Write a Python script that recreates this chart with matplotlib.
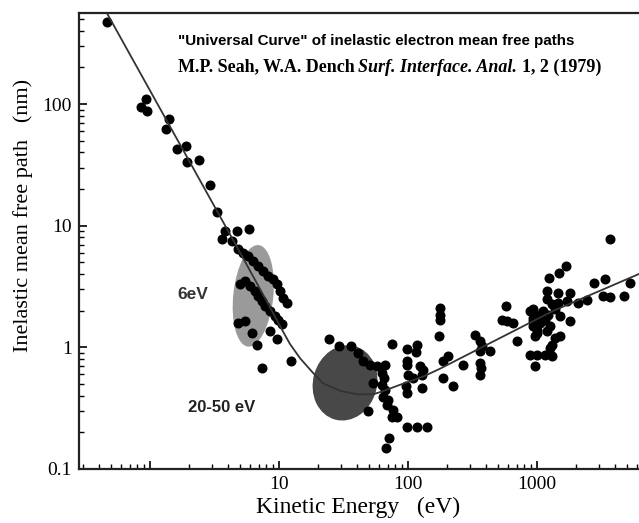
import matplotlib
matplotlib.use('Agg')
import matplotlib.pyplot as plt
from matplotlib.patches import Ellipse
from matplotlib.transforms import ScaledTranslation
from matplotlib.ticker import LogLocator, NullFormatter

# measured inelastic mean free paths: kinetic energy (eV) and path (nm)
energy = [0.461, 0.927, 0.847, 0.953, 1.41, 1.32, 1.61, 1.90, 1.92, 2.40, 2.92, 3.33,
          3.81, 4.70, 5.89, 3.60, 4.30,
          # 6 eV region, two dense rows
          4.83, 5.28, 5.78, 6.32, 6.92, 7.56, 8.26, 9.03, 9.59, 10.2, 10.8, 11.5,
          4.99, 5.45, 5.96, 6.51, 6.92, 7.35, 7.79, 8.51, 9.31, 9.88, 10.5,
          4.83, 5.45, 6.14, 6.71, 8.51, 9.59, 7.35, 12.5,
          # 20 - 150 eV
          24.5, 29.3, 35.9, 41.2, 45.0, 50.7, 57.8, 66.3, 62.6, 65.2, 53.8, 62.6,
          66.3, 64.4, 70.4, 68.4, 76.9, 74.8, 81.7, 49.2, 97.7, 117, 140, 71.3, 67.2,
          74.8, 97.7, 117, 115, 97.7, 99.0, 100.5, 124, 128, 110, 96.4, 97.7, 128,
          # 150 - 700 eV
          177, 177, 177, 175, 205, 188, 268, 188, 224, 330, 361, 372, 361, 432,
          361, 368, 361, 575, 533, 588, 655, 696, 131,
          # 1 - 5 keV
          883, 936, 936, 994, 883, 994, 965, 1150, 1300, 1260, 1300, 1380, 1510,
          965, 1190, 994, 1260, 936, 1050, 1150, 1510, 1800, 936, 994, 1120, 1220,
          1380, 1190, 1300, 1460, 1700, 1190, 1460, 1800, 2430, 2090, 3270, 3680,
          4730, 2770, 3370, 5260, 3680, 1680, 1490, 1240]
mfp = [470, 111, 94, 87.5, 74.8, 61.8, 43.1, 45.2, 33.3, 34.4, 21.8, 12.9,
       9.1, 9.1, 9.4, 7.76, 7.52,
       6.41, 6.01, 5.65, 5.14, 4.67, 4.25, 3.86, 3.62, 3.30, 2.90, 2.55, 2.32,
       3.30, 3.51, 3.19, 2.90, 2.64, 2.40, 2.18, 1.99, 1.80, 1.69, 1.56,
       1.59, 1.64, 1.31, 1.05, 1.36, 1.16, 0.675, 0.766,
       1.18, 1.02, 1.02, 0.897, 0.766, 0.719, 0.697, 0.719, 0.614, 0.557, 0.507, 0.492,
       0.447, 0.394, 0.370, 0.336, 0.305, 0.269, 0.269, 0.300, 0.222, 0.222, 0.222, 0.180, 0.149,
       1.06, 0.975, 1.04, 0.914, 0.766, 0.719, 0.594, 0.697, 0.594, 0.557, 0.477, 0.419, 0.461,
       2.11, 1.86, 1.69, 1.25, 0.843, 0.766, 0.719, 0.557, 0.477, 1.26, 1.12, 1.02, 0.927, 0.94,
       0.741, 0.675, 0.594, 2.18, 1.69, 1.64, 1.59, 1.12, 0.653,
       1.99, 1.75, 1.49, 1.31, 0.871, 0.871, 0.697, 0.871, 0.843, 0.987, 1.05, 1.19, 1.23,
       1.23, 1.36, 1.40, 1.49, 1.64, 1.59, 1.69, 1.80, 1.64, 2.05, 1.86, 1.99, 1.86,
       2.05, 2.48, 2.25, 2.32, 2.40, 2.90, 2.81, 2.81, 2.43, 2.32, 2.64, 2.59,
       2.64, 3.40, 3.62, 3.40, 7.76, 4.67, 4.11, 3.74]

# the universal curve
curve_energy = [0.409, 2.44, 4.81, 7.79, 10.5, 12.2, 14.6, 18.4, 21.9, 29.7, 40.3,
                53.6, 62.8, 86.7, 131, 177, 361, 1330, 6180]
curve_mfp = [710, 23.6, 6.46, 2.54, 1.41, 1.06, 0.811, 0.615, 0.507, 0.439, 0.411,
             0.411, 0.433, 0.492, 0.575, 0.667, 0.982, 1.99, 4.01]

# shaded regions: centre energy, centre path
region_6ev = (6.32, 2.65)
region_2050 = (32.5, 0.51)

serif = 'Liberation Serif'
sans = 'Liberation Sans'

fig = plt.figure(figsize=(6.39, 5.23), dpi=100)
ax = fig.add_axes([0.1236, 0.1033, 0.8764, 0.8718])
ax.set_xscale('log')
ax.set_yscale('log')
ax.set_xlim(0.2816, 6176)
ax.set_ylim(0.1, 560)

# ellipses sized in inches, centred on a data point
for (cx, cy), w, h, ang, col in [(region_6ev, 0.40, 1.02, -6, '#9a9a9a'),
                                  (region_2050, 0.64, 0.76, -15, '#484848')]:
    tr = fig.dpi_scale_trans + ScaledTranslation(cx, cy, ax.transData)
    ax.add_patch(Ellipse((0, 0), w, h, angle=ang, transform=tr,
                         facecolor=col, edgecolor='none', zorder=1))

ax.plot(energy, mfp, 'o', color='black', ms=6.2, mec='black', zorder=2)
ax.plot(curve_energy, curve_mfp, '-', color='#333333', lw=1.3, zorder=3)

ax.text(2.14, 2.70, '6eV', family=sans, weight='bold', fontsize=12.5,
        color='#333333', ha='center', va='center')
ax.text(3.60, 0.319, '20-50 eV', family=sans, weight='bold', fontsize=12,
        color='#222222', ha='center', va='center')

# reference heading
ax.text(0.176, 0.9386, '"Universal Curve" of inelastic electron mean free paths',
        transform=ax.transAxes, family=sans, weight='bold', fontsize=10.9,
        va='center', ha='left')
t1 = ax.text(0.176, 0.8816, 'M.P. Seah, W.A. Dench', transform=ax.transAxes,
             family=serif, weight='bold', fontsize=13, va='center', ha='left')
t2 = ax.annotate('Surf. Interface. Anal.', xy=(1, 0), xycoords=t1,
                 xytext=(3, 0), textcoords='offset points', va='bottom',
                 family=serif, weight='bold', style='italic', fontsize=13)
ax.annotate('1, 2 (1979)', xy=(1, 0), xycoords=t2,
            xytext=(3, 0), textcoords='offset points', va='bottom',
            family=serif, weight='bold', fontsize=13)

# axes and ticks
ax.set_xticks([1, 10, 100, 1000], ['', '10', '100', '1000'])
ax.set_yticks([0.1, 1, 10, 100], ['0.1', '1', '10', '100'])
ax.xaxis.set_minor_locator(LogLocator(base=10, subs=range(2, 10)))
ax.yaxis.set_minor_locator(LogLocator(base=10, subs=range(2, 10)))
ax.xaxis.set_minor_formatter(NullFormatter())
ax.yaxis.set_minor_formatter(NullFormatter())
ax.tick_params(which='major', direction='in', length=6, width=1.2, labelsize=14,
               pad=5, top=False, right=False)
ax.tick_params(which='minor', direction='in', length=3.5, width=1.0,
               top=False, right=False)
for lab in ax.get_xticklabels() + ax.get_yticklabels():
    lab.set_family(serif)

for side in ['left', 'bottom', 'top']:
    ax.spines[side].set_linewidth(1.6)
    ax.spines[side].set_color('#222222')
ax.spines['right'].set_visible(False)

ax.set_xlabel('Kinetic Energy   (eV)', family=serif, fontsize=17)
ax.set_ylabel('Inelastic mean free path   (nm)', family=serif, fontsize=16)
ax.xaxis.set_label_coords(0.498, -0.06)
ax.yaxis.set_label_coords(-0.082, 0.555)

plt.savefig('out.png', dpi=100)
